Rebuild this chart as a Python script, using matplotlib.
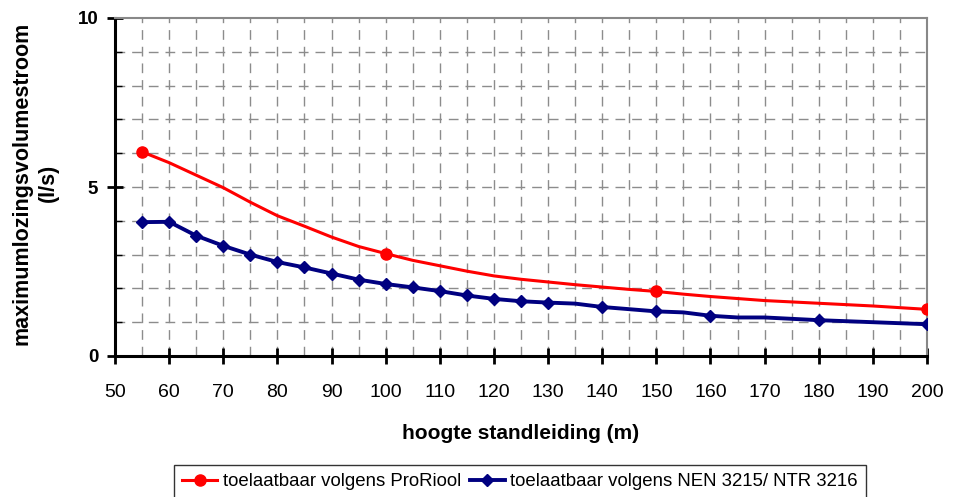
import numpy as np
import matplotlib
matplotlib.use("Agg")
import matplotlib.pyplot as plt
from matplotlib.ticker import MultipleLocator

plt.rcParams['font.family'] = ['Liberation Sans', 'DejaVu Sans']

# data
red_x = [55, 60, 65, 70, 75, 80, 85, 90, 95, 100, 105, 110, 115, 120, 125,
         130, 135, 140, 145, 150, 155, 160, 165, 170, 175, 180, 185, 190, 195, 200]
red_y = [6.04, 5.72, 5.35, 4.98, 4.55, 4.15, 3.84, 3.52, 3.24, 3.03, 2.83, 2.67, 2.51, 2.37, 2.27,
         2.19, 2.11, 2.04, 1.97, 1.91, 1.83, 1.76, 1.70, 1.64, 1.60, 1.56, 1.52, 1.48, 1.43, 1.38]
red_marked = [55, 100, 150, 200]

blue_x = [55, 60, 65, 70, 75, 80, 85, 90, 95, 100, 105, 110, 115, 120, 125, 130,
          135, 140, 150, 155, 160, 165, 170, 180, 200]
blue_y = [3.96, 3.97, 3.56, 3.26, 3.00, 2.78, 2.62, 2.44, 2.26, 2.13, 2.03, 1.92, 1.79, 1.69, 1.62, 1.58,
          1.55, 1.45, 1.32, 1.29, 1.19, 1.14, 1.14, 1.06, 0.94]
blue_unmarked = [135, 155, 165, 170]

red_label = 'toelaatbaar volgens ProRiool'
blue_label = 'toelaatbaar volgens NEN 3215/ NTR 3216'

fig = plt.figure(figsize=(9.55, 4.97), dpi=100)
ax = fig.add_axes([115 / 955, 1 - 356 / 497, 812 / 955, 338 / 497])

red_every = [i for i, x in enumerate(red_x) if x in red_marked]
blue_every = [i for i, x in enumerate(blue_x) if x not in blue_unmarked]

ax.plot(red_x, red_y, color='#FF0000', lw=2.2, marker='o', ms=8,
        markevery=red_every, label=red_label, zorder=3)
ax.plot(blue_x, blue_y, color='#000080', lw=2.8, marker='D', ms=6.5,
        markevery=blue_every, label=blue_label, zorder=3)

ax.set_xlim(50, 200)
ax.set_ylim(0, 10)

# dashed grid every 5 on x, every 1 on y
for gx in np.arange(55, 200, 5):
    ax.axvline(gx, color='#8c8c8c', lw=1, ls=(0, (7, 5)), zorder=1)
for gy in np.arange(1, 10, 1):
    ax.axhline(gy, color='#8c8c8c', lw=1, ls=(0, (7, 5)), zorder=1)

ax.xaxis.set_major_locator(MultipleLocator(10))
ax.yaxis.set_major_locator(MultipleLocator(5))
ax.yaxis.set_minor_locator(MultipleLocator(1))
ax.tick_params(axis='x', direction='inout', length=12, width=2, labelsize=14, pad=14)
ax.tick_params(axis='y', which='major', direction='inout', length=12, width=2, labelsize=13.5, pad=6)
ax.tick_params(axis='y', which='minor', direction='in', length=5, width=1)
for lab in ax.get_yticklabels():
    lab.set_fontweight('bold')

for s in ['left', 'bottom']:
    ax.spines[s].set_linewidth(2.2)
    ax.spines[s].set_color('black')
for s in ['top', 'right']:
    ax.spines[s].set_linewidth(1.5)
    ax.spines[s].set_color('#888888')

ax.set_xlabel('hoogte standleiding (m)', fontsize=15, fontweight='bold', labelpad=17)
fig.text(35 / 955, 1 - 183 / 497, 'maximumlozingsvolumestroom\n(l/s)', fontsize=15.5,
         fontweight='bold', rotation=90, ha='center', va='center',
         multialignment='center', linespacing=1.35)

leg = fig.legend(loc='upper center', bbox_to_anchor=(520 / 955, 1 - 465 / 497), ncol=2,
                 fontsize=13.4, frameon=True, fancybox=False, edgecolor='black',
                 handlelength=1.9, handletextpad=0.3, columnspacing=0.45, borderpad=0.45,
                 borderaxespad=0)
leg.get_frame().set_linewidth(1)

fig.savefig('out.png', dpi=100)
